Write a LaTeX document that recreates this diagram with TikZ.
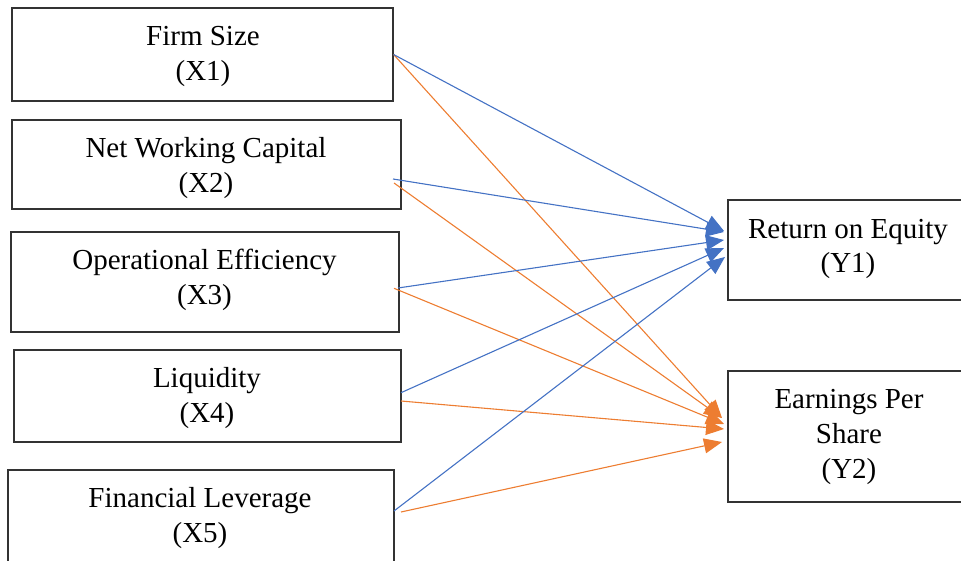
\documentclass[tikz,border=0pt]{standalone}
\usepackage{fontspec}
\setmainfont{Liberation Serif}
\usetikzlibrary{arrows.meta}
\definecolor{wblue}{HTML}{4472C4}
\definecolor{worange}{HTML}{ED7D31}
\begin{document}
\begin{tikzpicture}[x=1pt,y=-1pt,
  box/.style={draw=black!80, line width=1.2pt, rectangle, inner sep=0pt},
  lbl/.style={align=center, font=\fontsize{29}{35}\selectfont, anchor=base, inner sep=0pt},
  bconn/.style={draw=wblue, line width=1.1pt, -{Triangle[length=18pt,width=15pt]}},
  oconn/.style={draw=worange, line width=1.1pt, -{Triangle[length=18pt,width=15pt]}}]
\useasboundingbox (0,0) rectangle (961,561);
% boxes
\node[box, minimum width=381pt, minimum height=93pt] (x1) at (202.5,54.5) {};
\node[box, minimum width=389pt, minimum height=89pt] (x2) at (206.5,164.5) {};
\node[box, minimum width=388pt, minimum height=100pt] (x3) at (205,282) {};
\node[box, minimum width=387pt, minimum height=92pt] (x4) at (207.5,396) {};
\node[box, minimum width=386pt, minimum height=96pt] (x5) at (201,518) {};
\node[box, minimum width=240pt, minimum height=100pt] (y1) at (848,250) {};
\node[box, minimum width=240pt, minimum height=131pt] (y2) at (848,436.5) {};
% labels (anchored at the baseline of their last line)
\node[lbl] (x1t) at (203,81) {Firm Size\\(X1)};
\node[lbl] (x2t) at (206,193) {Net Working Capital\\(X2)};
\node[lbl] (x3t) at (204.5,305) {Operational Efficiency\\(X3)};
\node[lbl] (x4t) at (207,422.7) {Liquidity\\(X4)};
\node[lbl] (x5t) at (200,542) {Financial Leverage\\(X5)};
\node[lbl] (y1t) at (848,273) {Return on Equity\\(Y1)};
\node[lbl] (y2t) at (849,478) {Earnings Per\\Share\\(Y2)};
% connector end points
\coordinate (s2b) at (393,179);
\coordinate (s2o) at (394,183);
\coordinate (s3b) at (398,288);
\coordinate (s3o) at (394,288.3);
\coordinate (s4b) at (401,392.7);
\coordinate (s4o) at (401,401);
\coordinate (s5b) at (394,511);
\coordinate (s5o) at (401,512);
\coordinate (t1b) at (724,231);
\coordinate (t2b) at (724,232);
\coordinate (t3b) at (724,240);
\coordinate (t4b) at (724,248);
\coordinate (t5b) at (725,257);
\coordinate (t1o) at (722,418);
\coordinate (t2o) at (722,418);
\coordinate (t3o) at (724,424);
\coordinate (t4o) at (724,429);
\coordinate (t5o) at (722,442);
% connectors
\draw[oconn] (x1.east) -- (t1o);
\draw[oconn] (s2o) -- (t2o);
\draw[oconn] (s3o) -- (t3o);
\draw[oconn] (s4o) -- (t4o);
\draw[oconn] (s5o) -- (t5o);
\draw[bconn] (x1.east) -- (t1b);
\draw[bconn] (s2b) -- (t2b);
\draw[bconn] (s3b) -- (t3b);
\draw[bconn] (s4b) -- (t4b);
\draw[bconn] (s5b) -- (t5b);
\end{tikzpicture}
\end{document}
